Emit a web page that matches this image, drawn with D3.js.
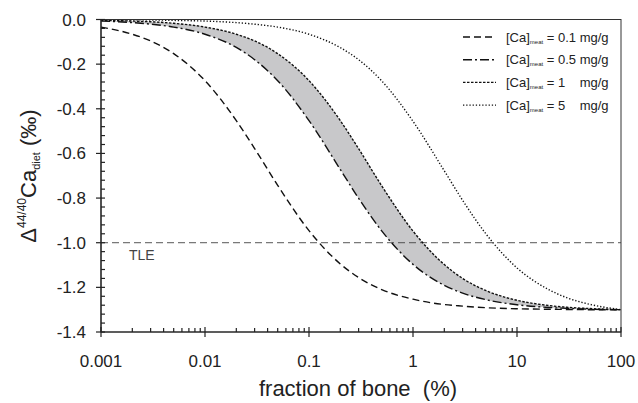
<!DOCTYPE html>
<html>
<head>
<meta charset="utf-8">
<script src="https://cdn.jsdelivr.net/npm/d3@7"></script>
<style>
  body { margin: 0; background: #fff; }
  text { font-family: "Liberation Sans", Arial, sans-serif; fill: #222; }
</style>
</head>
<body>
<div id="chart"></div>
<script>
// fraction of bone (%) sampled along the log axis
const bone = [0.001, 0.002, 0.003, 0.005, 0.01, 0.02, 0.03, 0.05, 0.1, 0.2, 0.3, 0.5, 1, 2, 3, 5, 10, 20, 30, 50, 100];
// Delta 44/40 Ca diet (permil) for each meat Ca content
const meat01 = [-0.034, -0.066, -0.096, -0.153, -0.274, -0.453, -0.578, -0.743, -0.946, -1.095, -1.156, -1.210, -1.253, -1.277, -1.284, -1.291, -1.296, -1.298, -1.299, -1.300, -1.300];
const meat05 = [-0.007, -0.014, -0.021, -0.034, -0.066, -0.125, -0.180, -0.274, -0.453, -0.672, -0.801, -0.947, -1.097, -1.191, -1.226, -1.255, -1.278, -1.290, -1.294, -1.298, -1.300];
const meat1  = [-0.004, -0.007, -0.010, -0.017, -0.034, -0.066, -0.096, -0.153, -0.274, -0.453, -0.579, -0.745, -0.948, -1.098, -1.160, -1.214, -1.258, -1.281, -1.289, -1.295, -1.300];
const meat5  = [-0.001, -0.001, -0.002, -0.004, -0.007, -0.014, -0.021, -0.034, -0.066, -0.126, -0.180, -0.275, -0.456, -0.678, -0.810, -0.959, -1.113, -1.209, -1.246, -1.276, -1.300];
const tle = -1.0;

const xTicks = [0.001, 0.01, 0.1, 1, 10, 100];
const xTickLabels = ["0.001", "0.01", "0.1", "1", "10", "100"];
const yTicks = [0, -0.2, -0.4, -0.6, -0.8, -1.0, -1.2, -1.4];

const legendItems = [
  { label: "0.1 mg/g", dash: "7,4", w: 1.4 },
  { label: "0.5 mg/g", dash: "9,3,2,3", w: 1.4 },
  { label: "1\u00a0\u00a0\u00a0\u00a0mg/g", dash: "2.5,1.5", w: 1.4 },
  { label: "5\u00a0\u00a0\u00a0\u00a0mg/g", dash: "1.3,1.9", w: 1.4 }
];

const W = 638, H = 403;
const m = { left: 101, right: 17, top: 19.5, bottom: 71 };
const svg = d3.select("#chart").append("svg").attr("width", W).attr("height", H);

const x = d3.scaleLog().domain([0.001, 100]).range([m.left, W - m.right]);
const y = d3.scaleLinear().domain([-1.4, 0]).range([H - m.bottom, m.top]);

// grey band between 0.5 and 1 mg/g
const area = d3.area()
  .x((d, i) => x(bone[i]))
  .y0((d, i) => y(meat05[i]))
  .y1((d, i) => y(meat1[i]))
  .curve(d3.curveMonotoneX);
svg.append("path").datum(bone).attr("d", area).attr("fill", "#c8c8ca");

// TLE line
svg.append("line")
  .attr("x1", x(0.001)).attr("x2", x(100))
  .attr("y1", y(tle)).attr("y2", y(tle))
  .attr("stroke", "#444").attr("stroke-width", 0.9).attr("stroke-dasharray", "7,4");
svg.append("text").attr("x", 129).attr("y", y(tle) + 17)
  .attr("font-size", 14).style("fill", "#444").text("TLE");

const line = vals => d3.line()
  .x((d, i) => x(bone[i]))
  .y((d, i) => y(vals[i]))
  .curve(d3.curveMonotoneX)(bone);

const series = [meat01, meat05, meat1, meat5];
series.forEach((s, k) => {
  svg.append("path").attr("d", line(s))
    .attr("fill", "none").attr("stroke", "#111")
    .attr("stroke-width", legendItems[k].w)
    .attr("stroke-dasharray", legendItems[k].dash);
});

// frame
svg.append("rect")
  .attr("x", m.left).attr("y", m.top)
  .attr("width", W - m.right - m.left).attr("height", H - m.bottom - m.top)
  .attr("fill", "none").attr("stroke", "#333").attr("stroke-width", 1);

const g = svg.append("g").attr("stroke", "#222").attr("stroke-width", 1.2);
const x0 = m.left, yB = H - m.bottom;
// axis lines
g.append("line").attr("x1", x0).attr("x2", x0).attr("y1", m.top).attr("y2", yB);
g.append("line").attr("x1", x0).attr("x2", W - m.right).attr("y1", yB).attr("y2", yB);

// y ticks
yTicks.forEach(v => {
  g.append("line").attr("x1", x0 - 5).attr("x2", x0 + 4).attr("y1", y(v)).attr("y2", y(v));
  svg.append("text").attr("x", x0 - 15).attr("y", y(v) + 6)
    .attr("text-anchor", "end").attr("font-size", 17).text(v.toFixed(1));
});
d3.range(0, 35).forEach(i => {
  if (i % 5 === 0) return;
  const v = -i * 0.04;
  g.append("line").attr("x1", x0).attr("x2", x0 + 4).attr("y1", y(v)).attr("y2", y(v));
});

// x ticks
xTicks.forEach((v, i) => {
  g.append("line").attr("x1", x(v)).attr("x2", x(v)).attr("y1", yB - 5).attr("y2", yB + 5);
  svg.append("text").attr("x", x(v)).attr("y", yB + 35)
    .attr("text-anchor", "middle").attr("font-size", 17).text(xTickLabels[i]);
});
xTicks.slice(0, -1).forEach(v => {
  d3.range(2, 10).forEach(k => {
    g.append("line").attr("x1", x(v * k)).attr("x2", x(v * k)).attr("y1", yB - 4).attr("y2", yB);
  });
});

// axis titles
svg.append("text").attr("x", 358).attr("y", 396).attr("text-anchor", "middle")
  .attr("font-size", 22).text("fraction of bone\u00a0\u00a0(%)");

const yl = svg.append("text").attr("transform", "translate(36,176) rotate(-90)")
  .attr("text-anchor", "middle").attr("font-size", 22);
yl.append("tspan").text("\u0394");
yl.append("tspan").attr("font-size", 12).attr("dy", -10).text("44/40");
yl.append("tspan").attr("dy", 10).text("Ca");
yl.append("tspan").attr("font-size", 11).attr("dy", 4).text("diet");
yl.append("tspan").attr("dy", -4).text("\u00a0(\u2030)");

// legend
const lg = svg.append("g");
legendItems.forEach((d, i) => {
  const yy = 37 + i * 22.7;
  lg.append("line").attr("x1", 463).attr("x2", 496).attr("y1", yy).attr("y2", yy)
    .attr("stroke", "#111").attr("stroke-width", d.w).attr("stroke-dasharray", d.dash);
  const t = lg.append("text").attr("x", 506).attr("y", yy + 4.5).attr("font-size", 13);
  t.append("tspan").text("[Ca]");
  t.append("tspan").attr("font-size", 6).attr("dy", 2).text("meat");
  t.append("tspan").attr("dy", -2).text(" = " + d.label);
});
</script>
</body>
</html>
